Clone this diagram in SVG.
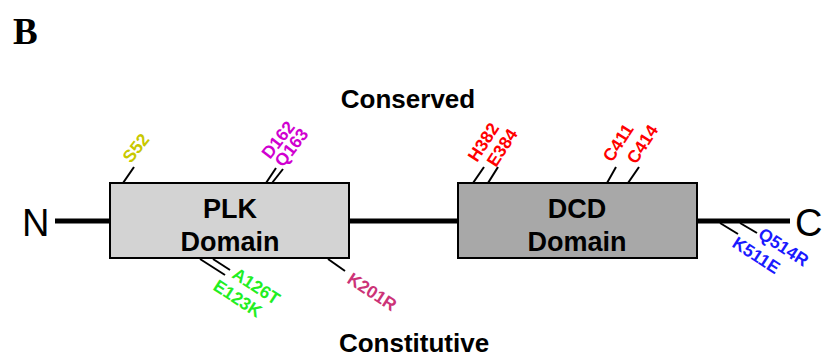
<svg xmlns="http://www.w3.org/2000/svg" width="827" height="359" viewBox="0 0 827 359">
<style>
.lbl{font-family:"Liberation Sans",Arial,sans-serif;font-weight:bold;font-size:17.5px}
.dom{font-family:"Liberation Sans",Arial,sans-serif;font-weight:bold;font-size:27px;text-anchor:middle}
.term{font-family:"Liberation Sans",Arial,sans-serif;font-size:38px}
.hdr{font-family:"Liberation Sans",Arial,sans-serif;font-weight:bold;font-size:26px;text-anchor:middle}
.tick{stroke:#000;stroke-width:2;fill:none}
.bb{stroke:#000;stroke-width:5;fill:none}
</style>
<rect width="827" height="359" fill="#fff"/>
<text x="13" y="44" font-family="Liberation Serif,Times New Roman,serif" font-weight="bold" font-size="37">B</text>
<text class="hdr" x="408" y="108">Conserved</text>
<text class="hdr" x="414" y="352">Constitutive</text>
<g id="connectors">
<line class="bb" x1="55" y1="221" x2="110" y2="221"/>
<line class="bb" x1="349" y1="221" x2="458" y2="221"/>
<line class="bb" x1="697" y1="221" x2="790" y2="221"/>
<line class="tick" x1="123" y1="183" x2="134" y2="167"/>
<line class="tick" x1="266" y1="183" x2="276" y2="168"/>
<line class="tick" x1="272" y1="183" x2="283" y2="169"/>
<line class="tick" x1="473" y1="183" x2="484" y2="167"/>
<line class="tick" x1="488" y1="183" x2="498" y2="167"/>
<line class="tick" x1="607" y1="183" x2="616" y2="167"/>
<line class="tick" x1="628" y1="183" x2="639" y2="167"/>
<line class="tick" x1="200" y1="259" x2="225" y2="275"/>
<line class="tick" x1="213" y1="259" x2="230" y2="270"/>
<line class="tick" x1="328" y1="259" x2="345" y2="271"/>
<line class="tick" x1="720" y1="223" x2="738" y2="234"/>
<line class="tick" x1="740" y1="223" x2="757" y2="233"/>
</g>
<g id="N"><text class="term" x="22" y="236">N</text></g>
<g id="C"><text class="term" x="795" y="236">C</text></g>
<g id="plk">
<rect x="110" y="183" width="239" height="75" fill="#d3d3d3" stroke="#000" stroke-width="2"/>
<text class="dom" x="230" y="218">PLK</text>
<text class="dom" x="230" y="251">Domain</text>
</g>
<g id="dcd">
<rect x="458" y="183" width="239" height="75" fill="#a8a8a8" stroke="#000" stroke-width="2"/>
<text class="dom" x="577" y="218">DCD</text>
<text class="dom" x="577" y="251">Domain</text>
</g>
<g id="muts">
<text class="lbl" fill="#c8c800" transform="translate(131,164) rotate(-52)">S52</text>
<text class="lbl" fill="#d000d0" transform="translate(270,160) rotate(-52)">D162</text>
<text class="lbl" fill="#d000d0" transform="translate(283,168) rotate(-52)">Q163</text>
<text class="lbl" fill="#ff0000" transform="translate(477,163) rotate(-57)">H382</text>
<text class="lbl" fill="#ff0000" transform="translate(496,168) rotate(-57)">E384</text>
<text class="lbl" fill="#ff0000" transform="translate(612,163) rotate(-57)">C411</text>
<text class="lbl" fill="#ff0000" transform="translate(636,165) rotate(-57)">C414</text>
<text class="lbl" fill="#22ee22" transform="translate(231,277) rotate(33)">A126T</text>
<text class="lbl" fill="#22ee22" transform="translate(212,289) rotate(33)">E123K</text>
<text class="lbl" fill="#cc3377" transform="translate(346,282) rotate(33)">K201R</text>
<text class="lbl" fill="#1a1aff" transform="translate(731,246) rotate(33)">K511E</text>
<text class="lbl" fill="#1a1aff" transform="translate(757,237) rotate(33)">Q514R</text>
</g>
</svg>
